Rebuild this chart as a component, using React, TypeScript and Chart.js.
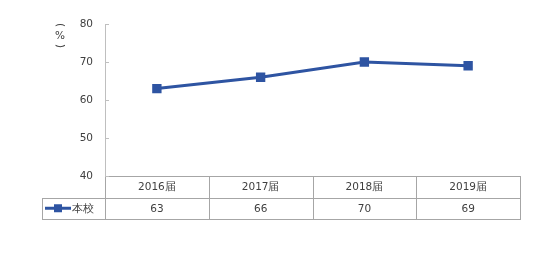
import React, { useEffect, useRef } from "react";
import { Chart, registerables } from "chart.js";

Chart.register(...registerables);

const categories = ["2016届", "2017届", "2018届", "2019届"];
const seriesName = "本校";
const values = [63, 66, 70, 69];
const yTicks = [40, 50, 60, 70, 80];

const LINE_COLOR = "#2E54A2";
const GRID_COLOR = "#A6A6A6";
const TEXT_COLOR = "#404040";
const FONT = "10.5px 'DejaVu Sans', sans-serif";

const tablePlugin = {
  id: "tablePlugin",
  afterDraw(chart: any) {
    const ctx = chart.ctx;
    const area = chart.chartArea;
    const n = categories.length;
    const colW = (area.right - area.left) / n;
    const top = area.bottom;
    const rowH = 21.5;
    const mid = top + rowH;
    const bot = top + rowH * 2;
    const legLeft = 42.5;
    ctx.save();
    ctx.strokeStyle = GRID_COLOR;
    ctx.lineWidth = 1;
    ctx.beginPath();
    // horizontal lines
    ctx.moveTo(area.left, Math.round(top) + 0.5);
    ctx.lineTo(area.right, Math.round(top) + 0.5);
    ctx.moveTo(legLeft, Math.round(mid) + 0.5);
    ctx.lineTo(area.right, Math.round(mid) + 0.5);
    ctx.moveTo(legLeft, Math.round(bot) + 0.5);
    ctx.lineTo(area.right, Math.round(bot) + 0.5);
    // verticals
    for (let i = 0; i <= n; i++) {
      const x = Math.round(area.left + i * colW) + 0.5;
      ctx.moveTo(x, Math.round(top));
      ctx.lineTo(x, Math.round(bot) + 1);
    }
    ctx.moveTo(legLeft, Math.round(mid));
    ctx.lineTo(legLeft, Math.round(bot) + 1);
    ctx.stroke();

    // y tick marks (inside)
    const ys = chart.scales.y;
    ctx.strokeStyle = "#BFBFBF";
    ctx.beginPath();
    yTicks.forEach((v) => {
      const y = Math.round(ys.getPixelForValue(v)) + 0.5;
      ctx.moveTo(area.left, y);
      ctx.lineTo(area.left + 4, y);
    });
    ctx.stroke();

    // text
    ctx.fillStyle = TEXT_COLOR;
    ctx.font = FONT;
    ctx.textAlign = "center";
    ctx.textBaseline = "middle";
    categories.forEach((c, i) => {
      const cx = area.left + (i + 0.5) * colW;
      ctx.fillText(c, cx, (top + mid) / 2 + 1);
      ctx.fillText(String(values[i]), cx, (mid + bot) / 2 + 1);
    });

    // legend
    const ly = (mid + bot) / 2;
    ctx.strokeStyle = LINE_COLOR;
    ctx.lineWidth = 3;
    ctx.beginPath();
    ctx.moveTo(45, ly);
    ctx.lineTo(71, ly);
    ctx.stroke();
    ctx.fillStyle = LINE_COLOR;
    ctx.fillRect(54, ly - 4, 8, 8);
    ctx.fillStyle = TEXT_COLOR;
    ctx.textAlign = "left";
    ctx.fillText(seriesName, 72, ly + 1);

    // unit label "(%)" vertical
    ctx.fillStyle = TEXT_COLOR;
    ctx.textAlign = "center";
    ctx.font = FONT;
    const ux = 60;
    ctx.save();
    ctx.translate(ux, 25);
    ctx.rotate(Math.PI / 2);
    ctx.fillText("(", 0, 0);
    ctx.restore();
    ctx.fillText("%", ux, 36);
    ctx.save();
    ctx.translate(ux, 46);
    ctx.rotate(Math.PI / 2);
    ctx.fillText(")", 0, 0);
    ctx.restore();
    ctx.restore();
  },
};

export default function App() {
  const ref = useRef<HTMLCanvasElement | null>(null);
  useEffect(() => {
    if (!ref.current) return;
    const chart = new Chart(ref.current, {
      type: "line",
      data: {
        labels: categories,
        datasets: [
          {
            label: seriesName,
            data: values,
            borderColor: LINE_COLOR,
            backgroundColor: LINE_COLOR,
            borderWidth: 3,
            pointStyle: "rect",
            pointRadius: 4.5,
            pointHoverRadius: 4.5,
            tension: 0,
            fill: false,
          },
        ],
      },
      options: {
        responsive: false,
        animation: false,
        maintainAspectRatio: false,
        layout: { padding: { left: 0, right: 27, top: 24, bottom: 88 } },
        plugins: { legend: { display: false }, tooltip: { enabled: false } },
        scales: {
          x: { type: "category", display: false, offset: true },
          y: {
            min: 40,
            max: 80,
            afterFit: (s: any) => {
              s.width = 105;
            },
            ticks: {
              stepSize: 10,
              padding: 12,
              color: TEXT_COLOR,
              font: { family: "'DejaVu Sans', sans-serif", size: 10.5 },
            },
            grid: { display: false, drawTicks: false },
            border: { display: true, color: "#BFBFBF", width: 1 },
          },
        },
      },
      plugins: [tablePlugin],
    });
    return () => chart.destroy();
  }, []);
  return (
    <div style={{ position: "fixed", left: 0, top: 0, width: 547, height: 264, background: "#fff" }}>
      <canvas ref={ref} width={547} height={264} style={{ width: 547, height: 264 }} />
    </div>
  );
}
